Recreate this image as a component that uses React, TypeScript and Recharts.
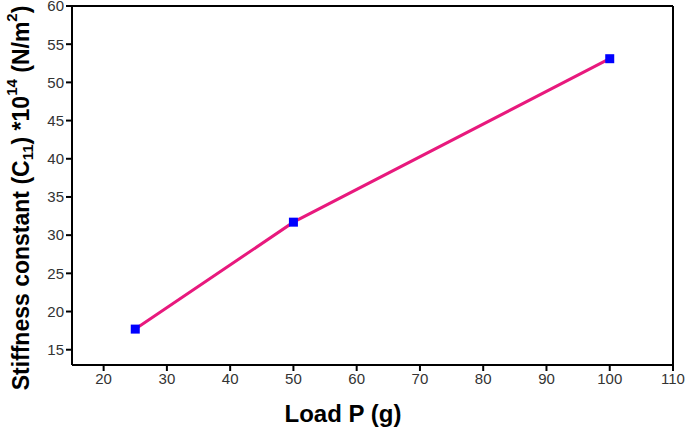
import React from 'react';
import { LineChart, Line, XAxis, YAxis, ReferenceLine } from 'recharts';

const loads = [25, 50, 100];
const stiffness = [17.7, 31.7, 53.1];
const xTicks = [20, 30, 40, 50, 60, 70, 80, 90, 100, 110];
const yTicks = [15, 20, 25, 30, 35, 40, 45, 50, 55, 60];

const data = loads.map((x, i) => ({ x, y: stiffness[i] }));

const FONT = 'Liberation Sans, Arial, sans-serif';

const SquareDot = (props: any) => {
  const { cx, cy } = props;
  if (cx == null || cy == null) return null;
  return <rect x={cx - 4.5} y={cy - 4.5} width={9} height={9} fill="#0000ff" />;
};

const YLabel = () => {
  const cx = 21;
  const cy = 198;
  return (
    <text
      x={cx}
      y={cy}
      transform={`rotate(-90 ${cx} ${cy})`}
      textAnchor="middle"
      dominantBaseline="central"
      fontFamily={FONT}
      fontWeight="bold"
      fontSize={23}
      fill="#000"
    >
      <tspan>Stiffness constant (C</tspan>
      <tspan fontSize={15} dy={6}>11</tspan>
      <tspan dy={-6}>) *10</tspan>
      <tspan fontSize={15} dy={-10}>14</tspan>
      <tspan dy={10}> (N/m</tspan>
      <tspan fontSize={15} dy={-10}>2</tspan>
      <tspan dy={10}>)</tspan>
    </text>
  );
};

const XLabel = () => (
  <text x={343} y={422} textAnchor="middle" fontFamily={FONT} fontWeight="bold" fontSize={24} fill="#000">
    Load P (g)
  </text>
);

export default function App() {
  return (
    <div style={{ position: 'absolute', left: 0, top: 0, background: '#fff' }}>
      <LineChart
        width={685}
        height={427}
        data={data}
        margin={{ top: 6, right: 12, bottom: 0, left: 0 }}
      >
        <XAxis
          dataKey="x"
          type="number"
          domain={[15, 110]}
          ticks={xTicks}
          interval={0}
          height={62}
          tickSize={6}
          stroke="#000"
          strokeWidth={2}
          tick={{ fill: '#333', fontSize: 15, fontFamily: FONT }}
          label={<XLabel />}
        />
        <YAxis
          type="number"
          domain={[13, 60]}
          ticks={yTicks}
          interval={0}
          width={72}
          tickSize={6}
          stroke="#000"
          strokeWidth={2}
          tick={{ fill: '#333', fontSize: 15, fontFamily: FONT }}
          label={<YLabel />}
        />
        <ReferenceLine y={60} stroke="#000" strokeWidth={2} />
        <ReferenceLine x={110} stroke="#000" strokeWidth={2} />
        <Line
          type="linear"
          dataKey="y"
          stroke="#e8197d"
          strokeWidth={3}
          dot={<SquareDot />}
          activeDot={false}
          isAnimationActive={false}
        />
      </LineChart>
    </div>
  );
}
